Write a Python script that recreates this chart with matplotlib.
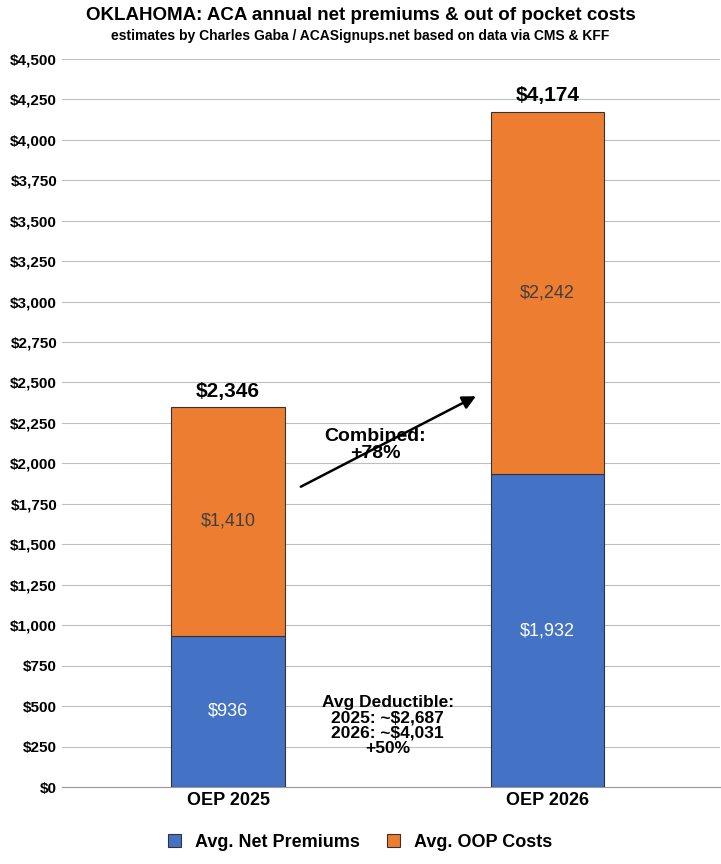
import matplotlib.pyplot as plt

categories = ['OEP 2025', 'OEP 2026']
net_premiums = [936, 1932]
oop_costs = [1410, 2242]
totals = [2346, 4174]

blue = '#4472C4'
orange = '#ED7D31'

plt.rcParams['font.family'] = ['Liberation Sans', 'DejaVu Sans']

fig = plt.figure(figsize=(7.21, 8.64), dpi=100)
ax = fig.add_axes([0.086, 0.089, 0.912, 0.843])

x = [0, 1]
w = 0.355
ax.bar(x, net_premiums, w, color=blue, edgecolor='#333333', linewidth=0.8, zorder=3, label='Avg. Net Premiums')
ax.bar(x, oop_costs, w, bottom=net_premiums, color=orange, edgecolor='#333333', linewidth=0.8, zorder=3, label='Avg. OOP Costs')

for i in x:
    ax.text(i, net_premiums[i] / 2, f'${net_premiums[i]:,}', ha='center', va='center',
            color='white', fontsize=13, zorder=4)
    ax.text(i, net_premiums[i] + oop_costs[i] / 2, f'${oop_costs[i]:,}', ha='center', va='center',
            color='#404040', fontsize=13, zorder=4)
    ax.text(i, totals[i] + 40, f'${totals[i]:,}', ha='center', va='bottom',
            fontsize=15, fontweight='bold', zorder=4)

ax.annotate('', xy=(0.784, 2423), xytext=(0.22, 1848),
            arrowprops=dict(arrowstyle='-|>', color='black', lw=1.8, mutation_scale=20), zorder=5)
ax.text(0.46, 2114, 'Combined:\n+78%', ha='center', va='center', fontsize=14,
        fontweight='bold', zorder=6, linespacing=1.0)
ax.text(0.50, 380, 'Avg Deductible:\n2025: ~$2,687\n2026: ~$4,031\n+50%', ha='center', va='center',
        fontsize=12.5, fontweight='bold', linespacing=1.05, zorder=6)

ax.set_xlim(-0.52, 1.539)
ax.set_ylim(0, 4500)
ax.set_yticks(range(0, 4501, 250))
ax.set_yticklabels([f'${v:,}' for v in range(0, 4501, 250)], fontsize=11, fontweight='bold')
ax.set_xticks(x)
ax.set_xticklabels(categories, fontsize=13, fontweight='bold')
ax.tick_params(length=0)
ax.yaxis.grid(True, color='#BFBFBF', linewidth=0.8, zorder=0)
for s in ['top', 'right', 'left']:
    ax.spines[s].set_visible(False)
ax.spines['bottom'].set_color('#999999')

fig.text(0.5, 0.982, 'OKLAHOMA: ACA annual net premiums & out of pocket costs', ha='center', va='center',
         fontsize=13.5, fontweight='bold')
fig.text(0.5, 0.958, 'estimates by Charles Gaba / ACASignups.net based on data via CMS & KFF', ha='center',
         va='center', fontsize=10, fontweight='bold')

fig.legend(loc='center', bbox_to_anchor=(0.5, 0.025), ncol=2, frameon=False, fontsize=13,
           prop={'weight': 'bold', 'size': 13}, handlelength=0.7, handleheight=0.7, columnspacing=1.5)

fig.savefig('out.png', dpi=100, facecolor='white')
